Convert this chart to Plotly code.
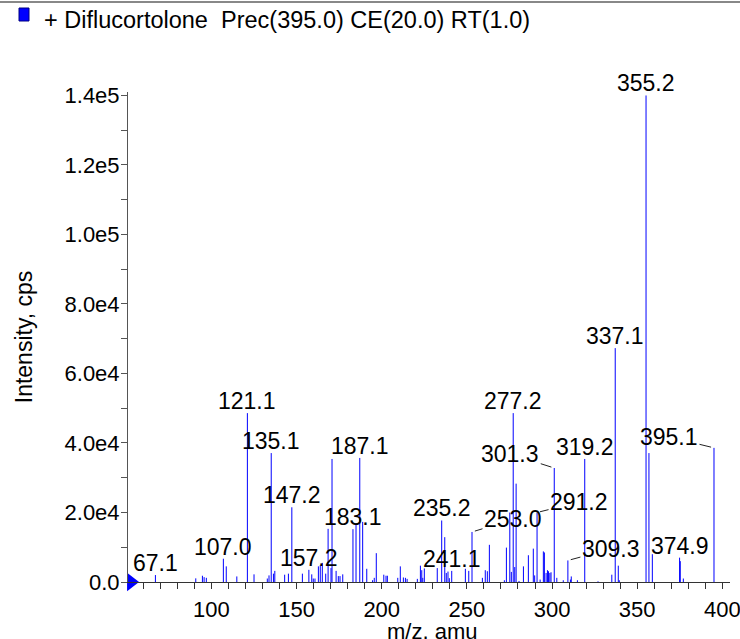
import plotly.graph_objects as go

# ---------------- data ----------------
title_text = "+ Diflucortolone  Prec(395.0) CE(20.0) RT(1.0)"
x_title = "m/z, amu"
y_title = "Intensity, cps"

mz = [67.1, 90.8, 94.7, 95.7, 97.0, 107.0, 108.7, 114.9, 121.1, 125.0,
      132.8, 133.8, 135.1, 136.4, 137.2, 143.0, 145.2, 147.2, 153.4, 157.2,
      158.9, 159.8, 160.8, 162.8, 163.9, 165.1, 167.1, 168.5, 170.2, 170.8,
      173.2, 174.5, 175.5, 177.1, 183.1, 184.9, 187.1, 188.8, 191.2, 194.6,
      195.6, 196.8, 201.2, 202.5, 203.3, 209.4, 210.9, 212.7, 213.9, 214.9,
      220.9, 222.7, 223.5, 224.1, 225.0, 232.6, 235.2, 237.0, 237.9, 238.9,
      239.7, 241.1, 249.1, 251.1, 253.0, 259.1, 260.8, 262.0, 263.2, 272.0,
      273.2, 275.2, 276.1, 277.2, 278.1, 278.9, 280.6, 283.2, 286.1, 289.0,
      289.8, 291.2, 293.0, 294.9, 295.5, 296.5, 297.3, 297.9, 298.7, 299.4,
      301.3, 302.8, 306.6, 309.3, 310.8, 311.3, 314.9, 319.2, 327.0, 335.1,
      337.1, 338.9, 339.5, 355.2, 356.9, 358.9, 374.9, 375.3, 377.1, 395.1]

intensity = [2000, 1050, 1800, 1400, 1200, 6700, 4500, 1600, 48600, 2200,
             1000, 1900, 37100, 2400, 3200, 2100, 2400, 21500, 2400, 3500,
             2200, 1000, 1000, 4500, 4800, 5500, 2400, 15300, 4000, 35400,
             3200, 1700, 1700, 2200, 15200, 16800, 35700, 17300, 3800, 500,
             1200, 8300, 2100, 1800, 1800, 1200, 4500, 1300, 1200, 900,
             900, 4700, 3400, 1200, 3900, 4000, 17700, 12900, 2600, 3000,
             1100, 3200, 3800, 3200, 14400, 1200, 3400, 3100, 10700, 500,
             9900, 20000, 2900, 48600, 4300, 28300, 300, 4500, 7700, 9600,
             1900, 20000, 700, 8800, 8500, 2600, 3400, 3100, 2600, 2800,
             32800, 1200, 500, 6200, 700, 1600, 500, 35400, 200, 2100,
             67300, 4700, 500, 140000, 37100, 8000, 7000, 6000, 1000, 38600]

label_mz = [67.1, 107.0, 121.1, 135.1, 147.2, 157.2, 183.1, 187.1, 235.2, 241.1,
            253.0, 277.2, 291.2, 301.3, 309.3, 319.2, 337.1, 355.2, 374.9, 395.1]

y_tick_vals = [0, 20000, 40000, 60000, 80000, 100000, 120000, 140000]
y_tick_text = ["0.0", "2.0e4", "4.0e4", "6.0e4", "8.0e4", "1.0e5", "1.2e5", "1.4e5"]
x_tick_vals = [100, 150, 200, 250, 300, 350, 400]

# ---------------- style / layout ----------------
FONT = "Liberation Sans, Arial, Helvetica, sans-serif"
BLUE = "#0000ff"
x_range = [51.0, 404.5]
y_range = [0, 141000]
W, H = 740, 639
ML, MR, MT, MB = 128, 10, 92, 57
PW, PH = W - ML - MR, H - MT - MB

# leader-line label offsets (pixels from peak top to label centre)
leader_offsets = {253.0: (41, -12.5), 291.2: (42, -10.5), 301.3: (-44, -14),
                  309.3: (43, -11.5), 395.1: (-45, -11)}

xs, ys = [], []
for m, i in zip(mz, intensity):
    xs += [m, m, None]
    ys += [0, i, None]

fig = go.Figure()
fig.add_trace(go.Scatter(x=xs, y=ys, mode="lines",
                         line=dict(color=BLUE, width=1),
                         hoverinfo="skip", showlegend=False))
# baseline marker triangle on the y axis
fig.add_trace(go.Scatter(x=[x_range[0] + 1.8], y=[0], mode="markers",
                         marker=dict(symbol="triangle-right", size=16, color=BLUE),
                         cliponaxis=False, showlegend=False, hoverinfo="skip"))

lookup = dict(zip(mz, intensity))
annotations = []
for m in label_mz:
    txt = f"{m:.1f}"
    yv = lookup[m]
    if m in leader_offsets:
        ax, ay = leader_offsets[m]
        annotations.append(dict(x=m, y=yv, text=txt, showarrow=True,
                                ax=ax, ay=ay, arrowhead=0, arrowwidth=1,
                                arrowcolor="#222", standoff=3,
                                font=dict(size=23, color="black", family=FONT)))
    else:
        annotations.append(dict(x=m, y=yv, text=txt, showarrow=False,
                                yanchor="bottom", xanchor="center", yshift=-3,
                                font=dict(size=23, color="black", family=FONT)))

def px2paper_x(px):
    return (px - ML) / PW

def px2paper_y(py):
    return (H - MB - py) / PH

annotations.append(dict(x=px2paper_x(42), y=px2paper_y(20), xref="paper", yref="paper",
                        text=title_text, showarrow=False, xanchor="left", yanchor="middle",
                        font=dict(size=23.5, color="black", family=FONT)))
annotations.append(dict(x=px2paper_x(432), y=px2paper_y(631), xref="paper", yref="paper",
                        text=x_title, showarrow=False, xanchor="center", yanchor="middle",
                        font=dict(size=22, color="black", family=FONT)))

shapes = [
    dict(type="line", xref="paper", yref="paper",
         x0=px2paper_x(0), x1=px2paper_x(W), y0=px2paper_y(2), y1=px2paper_y(2),
         line=dict(color="#888888", width=2)),
    dict(type="rect", xref="paper", yref="paper",
         x0=px2paper_x(19), x1=px2paper_x(29), y0=px2paper_y(21), y1=px2paper_y(8),
         fillcolor=BLUE, line=dict(color="#000080", width=1)),
]

fig.update_layout(
    width=W, height=H,
    margin=dict(l=ML, r=MR, t=MT, b=MB, autoexpand=False),
    paper_bgcolor="white", plot_bgcolor="white",
    font=dict(family=FONT, size=22, color="black"),
    showlegend=False,
    annotations=annotations,
    shapes=shapes,
    xaxis=dict(range=x_range, showgrid=False, zeroline=False,
               showline=True, linecolor="#333333", linewidth=1,
               ticks="outside", ticklen=6, tickcolor="#333333",
               tickvals=x_tick_vals, tickfont=dict(size=22, family=FONT),
               ticklabelstandoff=2, ticklabeloverflow="allow",
               minor=dict(dtick=10, tick0=0, ticks="outside", ticklen=6,
                          tickcolor="#333333", showgrid=False),
               automargin=False),
    yaxis=dict(range=y_range, showgrid=False, zeroline=False,
               showline=True, linecolor="#555555", linewidth=1,
               ticks="outside", ticklen=6, tickcolor="#555555",
               tickvals=y_tick_vals, ticktext=y_tick_text,
               tickfont=dict(size=22, family=FONT),
               ticklabelstandoff=-3,
               minor=dict(dtick=10000, tick0=0, ticks="outside", ticklen=6,
                          tickcolor="#555555", showgrid=False),
               title=dict(text=y_title, font=dict(size=23, family=FONT), standoff=25),
               automargin=False),
)

fig.write_html("out.html", config={"displayModeBar": False},
               post_script="document.body.style.margin='0';document.body.style.padding='0';")
